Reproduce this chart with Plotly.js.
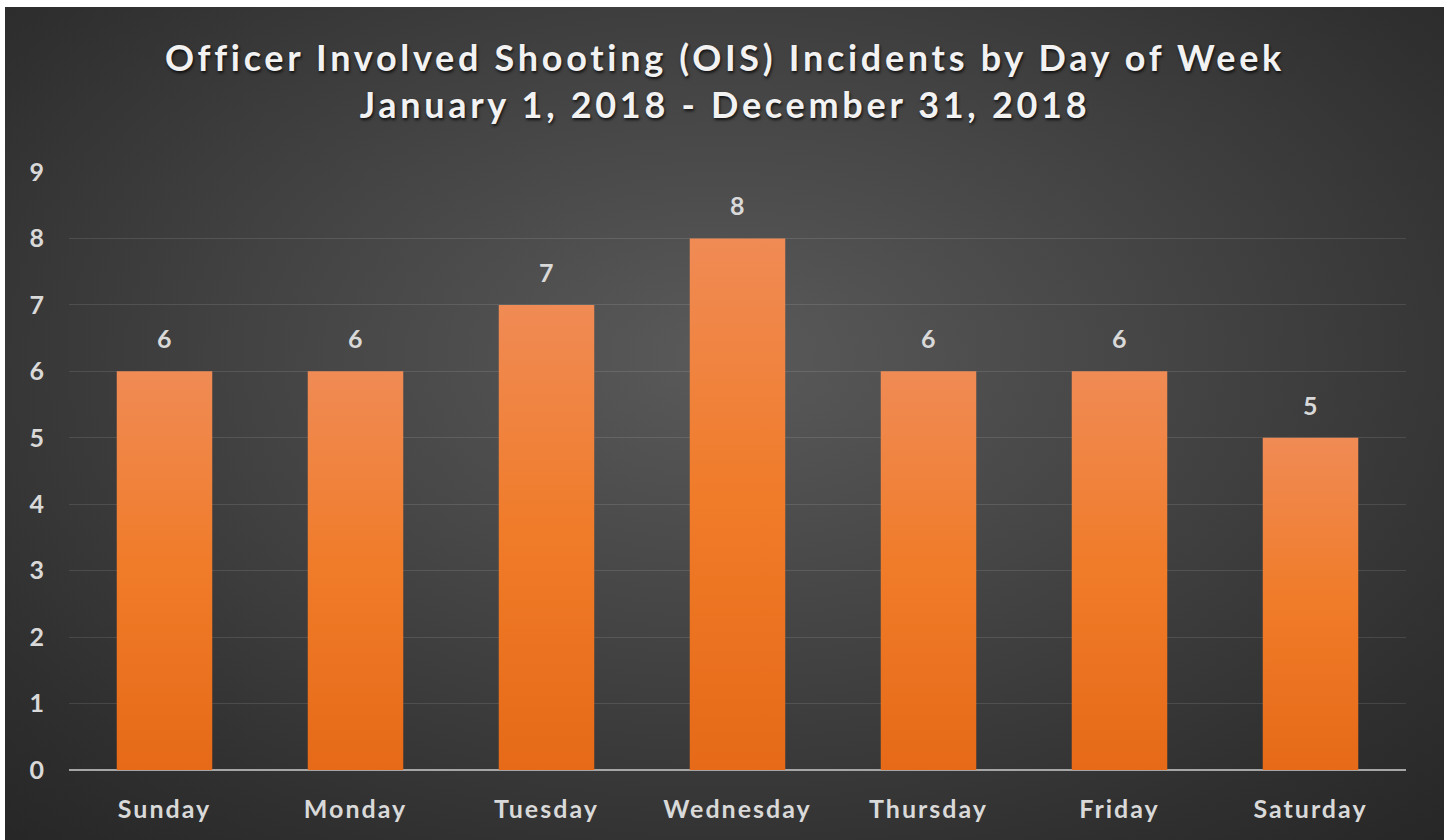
<!DOCTYPE html>
<html>
<head>
<meta charset="utf-8">
<script src="https://cdn.plot.ly/plotly-3.0.1.min.js"></script>
<style>
  html, body { margin: 0; padding: 0; background: #ffffff; }
  #wrap { position: relative; width: 1450px; height: 840px; overflow: hidden; background: #ffffff; }
  #bg { position: absolute; left: 5px; top: 7px; width: 1439px; height: 833px;
        background: radial-gradient(ellipse 75% 80% at 50% 42%, #5a5a5a 0%, #454545 40%, #2f2f2f 80%, #262626 100%); }
  #chart { position: absolute; left: 0; top: 0; width: 1450px; height: 840px; }
</style>
</head>
<body>
<div id="wrap">
  <div id="bg"></div>
  <div id="chart"></div>
</div>
<script>
const days = ["Sunday", "Monday", "Tuesday", "Wednesday", "Thursday", "Friday", "Saturday"];
const incidents = [6, 6, 7, 8, 6, 6, 5];
const yTicks = [0, 1, 2, 3, 4, 5, 6, 7, 8, 9];
const titleLines = ["Officer Involved Shooting (OIS) Incidents by Day of Week", "January 1, 2018 - December 31, 2018"];

const labelFont = { family: "Lato, 'Open Sans', sans-serif", size: 25, color: "#d9d9d9", weight: 700 };

const trace = {
  type: "bar",
  x: days,
  y: incidents,
  marker: { color: "#ef7d2e", line: { width: 0 } },
  hoverinfo: "x+y"
};

const annotations = days.map((d, i) => ({
  x: d, y: incidents[i], xref: "x", yref: "y",
  text: String(incidents[i]),
  showarrow: false, yanchor: "bottom", yshift: 16,
  font: labelFont
}));

const layout = {
  width: 1450, height: 840,
  paper_bgcolor: "rgba(0,0,0,0)",
  plot_bgcolor: "rgba(0,0,0,0)",
  margin: { l: 69, r: 44, t: 172, b: 70, pad: 0 },
  title: {
    text: titleLines.join("<br>"),
    font: { family: "Lato, 'Open Sans', sans-serif", size: 36, color: "#f2f2f2", weight: 700,
            shadow: "1px 2px 3px rgba(0,0,0,0.75)" },
    x: 0.5, xref: "container", xanchor: "center",
    y: 1 - 71 / 840, yref: "container", yanchor: "top"
  },
  bargap: 0.5,
  showlegend: false,
  xaxis: {
    type: "category",
    showgrid: false, showline: false, zeroline: false,
    ticks: "", ticklabelstandoff: 22,
    tickfont: labelFont
  },
  yaxis: {
    range: [0, 9],
    tickvals: yTicks,
    ticktext: yTicks.map(String),
    showgrid: true, gridcolor: "rgba(255,255,255,0.11)", gridwidth: 1,
    zeroline: true, zerolinecolor: "#a6a6a6", zerolinewidth: 2,
    showline: false, ticks: "", ticklabelstandoff: 24,
    tickfont: labelFont
  },
  annotations: annotations
};

Plotly.newPlot("chart", [trace], layout, { displayModeBar: false, staticPlot: true }).then(gd => {
  const svg = gd.querySelector("svg.main-svg");
  const ns = "http://www.w3.org/2000/svg";
  let defs = svg.querySelector("defs");
  if (!defs) { defs = document.createElementNS(ns, "defs"); svg.insertBefore(defs, svg.firstChild); }
  const lg = document.createElementNS(ns, "linearGradient");
  lg.setAttribute("id", "barGrad");
  lg.setAttribute("x1", "0"); lg.setAttribute("y1", "0");
  lg.setAttribute("x2", "0"); lg.setAttribute("y2", "1");
  [["0%", "#f08b55"], ["50%", "#f07b28"], ["100%", "#e66a18"]].forEach(([o, c]) => {
    const s = document.createElementNS(ns, "stop");
    s.setAttribute("offset", o); s.setAttribute("stop-color", c);
    lg.appendChild(s);
  });
  defs.appendChild(lg);
  gd.querySelectorAll(".bars .point path").forEach(p => { p.style.fill = "url(#barGrad)"; });
  gd.querySelectorAll("text.gtitle").forEach(t => { t.style.letterSpacing = "3.7px"; });
  gd.querySelectorAll(".xtick text").forEach(t => { t.style.letterSpacing = "2px"; });
});
</script>
</body>
</html>
